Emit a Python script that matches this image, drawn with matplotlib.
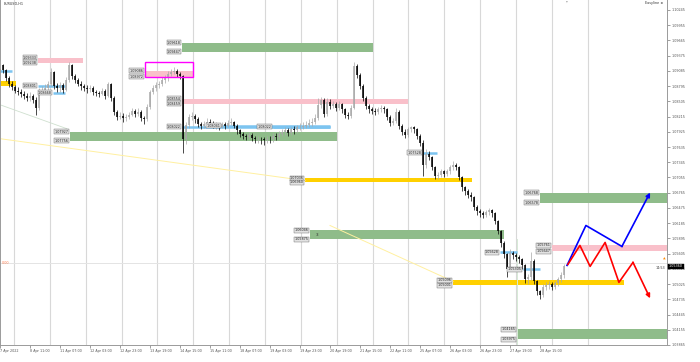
import numpy as np
import matplotlib.pyplot as plt
from matplotlib.patches import Rectangle

# EURUSD, bars sampled every 2 hours (index = bar number)
first_open = 1.0912
close = [1.0920, 1.0911, 1.0895, 1.0884, 1.0878, 1.0871, 1.0869, 1.0865, 1.0861, 1.0857,
         1.0861, 1.0854, 1.0838, 1.0869, 1.0873, 1.0876, 1.0884, 1.0907, 1.0880, 1.0876,
         1.0882, 1.0873, 1.0892, 1.0920, 1.0899, 1.0892, 1.0884, 1.0880, 1.0876, 1.0874,
         1.0876, 1.0869, 1.0867, 1.0865, 1.0871, 1.0861, 1.0884, 1.0857, 1.0831, 1.0821,
         1.0823, 1.0819, 1.0821, 1.0825, 1.0833, 1.0827, 1.0831, 1.0819, 1.0817, 1.0840,
         1.0869, 1.0876, 1.0882, 1.0884, 1.0892, 1.0895, 1.0903, 1.0907, 1.0909, 1.0903,
         1.0899, 1.0778, 1.0806, 1.0821, 1.0823, 1.0816, 1.0808, 1.0804, 1.0808, 1.0812,
         1.0810, 1.0804, 1.0806, 1.0802, 1.0808, 1.0804, 1.0810, 1.0812, 1.0804, 1.0795,
         1.0789, 1.0785, 1.0783, 1.0787, 1.0781, 1.0778, 1.0779, 1.0778, 1.0776, 1.0779,
         1.0778, 1.0785, 1.0783, 1.0789, 1.0793, 1.0795, 1.0791, 1.0797, 1.0795, 1.0801,
         1.0802, 1.0804, 1.0806, 1.0810, 1.0812, 1.0819, 1.0844, 1.0854, 1.0827, 1.0850,
         1.0842, 1.0846, 1.0838, 1.0846, 1.0835, 1.0825, 1.0823, 1.0838, 1.0918, 1.0901,
         1.0880, 1.0857, 1.0842, 1.0835, 1.0833, 1.0831, 1.0835, 1.0838, 1.0835, 1.0821,
         1.0810, 1.0814, 1.0831, 1.0804, 1.0793, 1.0787, 1.0797, 1.0801, 1.0797, 1.0785,
         1.0772, 1.0730, 1.0751, 1.0744, 1.0725, 1.0709, 1.0711, 1.0717, 1.0713, 1.0717,
         1.0725, 1.0730, 1.0725, 1.0706, 1.0687, 1.0679, 1.0673, 1.0668, 1.0650, 1.0641,
         1.0637, 1.0635, 1.0639, 1.0643, 1.0637, 1.0622, 1.0603, 1.0580, 1.0559, 1.0531,
         1.0561, 1.0557, 1.0554, 1.0550, 1.0538, 1.0512, 1.0516, 1.0546, 1.0508, 1.0489,
         1.0481, 1.0497, 1.0500, 1.0502, 1.0497, 1.0504, 1.0512, 1.0519, 1.0536]
high = [1.0930, 1.0922, 1.0913, 1.0898, 1.0889, 1.0882, 1.0877, 1.0874, 1.0870, 1.0866,
        1.0868, 1.0864, 1.0858, 1.0875, 1.0880, 1.0884, 1.0890, 1.0914, 1.0909, 1.0886,
        1.0887, 1.0885, 1.0896, 1.0926, 1.0922, 1.0903, 1.0895, 1.0889, 1.0884, 1.0881,
        1.0882, 1.0879, 1.0873, 1.0871, 1.0876, 1.0874, 1.0888, 1.0886, 1.0860, 1.0834,
        1.0830, 1.0828, 1.0826, 1.0831, 1.0838, 1.0836, 1.0837, 1.0834, 1.0823, 1.0845,
        1.0873, 1.0881, 1.0888, 1.0890, 1.0896, 1.0901, 1.0908, 1.0913, 1.0916, 1.0912,
        1.0907, 1.0901, 1.0812, 1.0827, 1.0830, 1.0827, 1.0820, 1.0812, 1.0813, 1.0818,
        1.0816, 1.0813, 1.0811, 1.0809, 1.0812, 1.0811, 1.0815, 1.0818, 1.0814, 1.0807,
        1.0798, 1.0792, 1.0789, 1.0792, 1.0790, 1.0785, 1.0784, 1.0783, 1.0782, 1.0785,
        1.0784, 1.0790, 1.0791, 1.0794, 1.0798, 1.0801, 1.0799, 1.0802, 1.0803, 1.0806,
        1.0809, 1.0811, 1.0813, 1.0816, 1.0819, 1.0826, 1.0857, 1.0859, 1.0857, 1.0857,
        1.0855, 1.0851, 1.0849, 1.0852, 1.0848, 1.0838, 1.0830, 1.0843, 1.0926, 1.0922,
        1.0905, 1.0884, 1.0861, 1.0846, 1.0840, 1.0838, 1.0840, 1.0844, 1.0842, 1.0838,
        1.0825, 1.0818, 1.0838, 1.0834, 1.0808, 1.0797, 1.0801, 1.0804, 1.0803, 1.0799,
        1.0788, 1.0776, 1.0759, 1.0756, 1.0747, 1.0728, 1.0716, 1.0722, 1.0720, 1.0722,
        1.0730, 1.0736, 1.0734, 1.0728, 1.0709, 1.0690, 1.0683, 1.0677, 1.0671, 1.0653,
        1.0645, 1.0641, 1.0643, 1.0648, 1.0646, 1.0640, 1.0625, 1.0606, 1.0584, 1.0562,
        1.0569, 1.0565, 1.0561, 1.0557, 1.0553, 1.0541, 1.0522, 1.0563, 1.0550, 1.0511,
        1.0492, 1.0502, 1.0506, 1.0508, 1.0507, 1.0509, 1.0516, 1.0525, 1.0540]
low = [1.0916, 1.0905, 1.0890, 1.0878, 1.0872, 1.0866, 1.0862, 1.0859, 1.0855, 1.0851,
       1.0852, 1.0848, 1.0824, 1.0834, 1.0864, 1.0868, 1.0870, 1.0880, 1.0874, 1.0869,
       1.0868, 1.0866, 1.0870, 1.0888, 1.0893, 1.0886, 1.0879, 1.0873, 1.0870, 1.0867,
       1.0868, 1.0863, 1.0860, 1.0858, 1.0862, 1.0855, 1.0858, 1.0851, 1.0825, 1.0815,
       1.0816, 1.0812, 1.0813, 1.0817, 1.0822, 1.0821, 1.0823, 1.0813, 1.0807, 1.0814,
       1.0836, 1.0864, 1.0871, 1.0876, 1.0879, 1.0886, 1.0890, 1.0899, 1.0902, 1.0897,
       1.0893, 1.0753, 1.0770, 1.0800, 1.0815, 1.0810, 1.0802, 1.0798, 1.0800, 1.0805,
       1.0804, 1.0799, 1.0798, 1.0796, 1.0799, 1.0798, 1.0801, 1.0805, 1.0799, 1.0789,
       1.0783, 1.0779, 1.0776, 1.0779, 1.0775, 1.0771, 1.0772, 1.0770, 1.0768, 1.0771,
       1.0772, 1.0774, 1.0777, 1.0779, 1.0784, 1.0787, 1.0785, 1.0786, 1.0789, 1.0790,
       1.0795, 1.0797, 1.0799, 1.0801, 1.0804, 1.0808, 1.0815, 1.0838, 1.0820, 1.0823,
       1.0836, 1.0837, 1.0833, 1.0834, 1.0829, 1.0819, 1.0816, 1.0818, 1.0835, 1.0895,
       1.0874, 1.0851, 1.0836, 1.0829, 1.0826, 1.0825, 1.0826, 1.0830, 1.0829, 1.0815,
       1.0804, 1.0805, 1.0810, 1.0798, 1.0787, 1.0781, 1.0783, 1.0792, 1.0791, 1.0779,
       1.0766, 1.0709, 1.0724, 1.0738, 1.0719, 1.0703, 1.0702, 1.0706, 1.0707, 1.0709,
       1.0712, 1.0720, 1.0719, 1.0700, 1.0680, 1.0673, 1.0667, 1.0661, 1.0644, 1.0635,
       1.0631, 1.0628, 1.0630, 1.0634, 1.0631, 1.0616, 1.0597, 1.0574, 1.0552, 1.0516,
       1.0527, 1.0551, 1.0547, 1.0543, 1.0532, 1.0505, 1.0502, 1.0510, 1.0502, 1.0482,
       1.0474, 1.0478, 1.0492, 1.0494, 1.0491, 1.0493, 1.0499, 1.0507, 1.0515]

time_labels = ["7 Apr 2022", "8 Apr 11:00", "11 Apr 07:00", "12 Apr 03:00", "12 Apr 23:00",
               "13 Apr 19:00", "14 Apr 15:00", "15 Apr 11:00", "18 Apr 07:00", "19 Apr 03:00",
               "19 Apr 23:00", "20 Apr 19:00", "21 Apr 15:00", "22 Apr 11:00", "25 Apr 07:00",
               "26 Apr 03:00", "26 Apr 23:00", "27 Apr 19:00", "28 Apr 15:00"]

# zones: start bar, end bar, top price, bottom price, kind
zone_start = [0, 12.7, 60.7, 48.3, 60.7, 23.3, 101.7, 103.3, 151, 184, 180, 172.3]
zone_end = [5.3, 27.7, 124.3, 64.3, 136, 112.3, 157.3, 168, 208, 230, 230, 230]
zone_top = [1.08896, 1.09333, 1.09618, 1.09086, 1.08554, 1.07927, 1.07036, 1.06046,
            1.05096, 1.05761, 1.06768, 1.04165]
zone_bot = [1.08801, 1.09238, 1.09447, 1.08972, 1.08459, 1.07756, 1.06960, 1.05875,
            1.05001, 1.05647, 1.06578, 1.03975]
zone_kind = ["minor", "supply", "demand", "supply", "supply", "demand", "minor",
             "demand", "minor", "supply", "demand", "demand"]

# short blue levels
level_start = [0, 12.7, 17.7, 60.7, 74, 91, 141, 166.7, 174.3]
level_end = [4, 21.7, 21.7, 110, 110, 110, 145.7, 172.3, 180]
level_price = [1.09077, 1.08801, 1.08668, 1.08022, 1.08041, 1.08022, 1.07528, 1.05628, 1.05305]

# projected paths
blue_x = [189, 195.3, 207.3, 216.7]
blue_p = [1.05381, 1.06141, 1.05742, 1.06768]
red_x = [189.3, 193.3, 196.7, 201.7, 206.3, 211, 216.7]
red_p = [1.05400, 1.05761, 1.05362, 1.05818, 1.05058, 1.05438, 1.04754]

kind_color = {"supply": "#f9c0ca", "demand": "#8fbc8a", "minor": "#ffd000"}
label_box = dict(boxstyle="square,pad=0.15", fc="#e2e2e2", ec="#666", lw=0.3)

fig = plt.figure(figsize=(7, 3.62), dpi=100)
ax = fig.add_axes([0, 17 / 362, 667 / 700, 345 / 362])
ax.set_xlim(0, 222.33)
ax.set_ylim(1.03880, 1.10435)
fs = 2.4

for gx in 14 + 35.85 * np.arange(17):
    ax.axvline(gx / 3, color="#d8d8d8", lw=0.8, zorder=0)
ax.axhline(1.05419, color="#e4e4e4", lw=0.7, zorder=0)
ax.text(0.6, 1.05419, "0.00", color="#ff7f50", fontsize=fs, va="center")

for x0, x1, top, bot, kind in zip(zone_start, zone_end, zone_top, zone_bot, zone_kind):
    ax.add_patch(Rectangle((x0, bot), x1 - x0, top - bot, color=kind_color[kind], lw=0, zorder=1))
    if x0 > 3:
        for p in (top, bot):
            ax.text(x0 - 0.4, p, f"{p:.5f}", fontsize=fs, ha="right", va="center", color="#222",
                    bbox=label_box, zorder=5)
# magenta frame
ax.add_patch(Rectangle((48.3, 1.08972), 16, 1.09257 - 1.08972, fill=False, ec="#ff00ff", lw=1.0, zorder=4))
ax.text(105.3, 1.0596, "3", fontsize=3, va="center", color="#333", zorder=5)

for x0, x1, p in zip(level_start, level_end, level_price):
    ax.plot([x0, x1], [p, p], color="#7cc4f0", lw=1.8, zorder=2, solid_capstyle="butt")
for i in range(1, len(level_start)):
    ax.text(level_start[i] - 0.4, level_price[i], f"{level_price[i]:.5f}", fontsize=fs, ha="right",
            va="center", color="#222", bbox=label_box, zorder=5)

# faint trend lines
ax.plot([0, 101.7], [1.07794, 1.06996], color="#fff0a0", lw=0.7, zorder=1)
ax.plot([110, 151], [1.06141, 1.05077], color="#fff0a0", lw=0.7, zorder=1)
ax.plot([0, 22.3], [1.08440, 1.07984], color="#cfe0cf", lw=0.6, zorder=1)
ax.plot([172.3, 172.3], [1.05875, 1.03880], color="#d6ead6", lw=0.7, zorder=1)

# candles
close = np.array(close)
high = np.array(high)
low = np.array(low)
opens = np.r_[first_open, close[:-1]]
k = np.arange(len(close))
cols = np.where(close >= opens, "#a8a8a8", "#000000")
ax.vlines(k, low, high, colors=cols, lw=0.5, zorder=3)
ax.vlines(k, np.minimum(opens, close), np.maximum(opens, close), colors=cols, lw=1.1, zorder=3)

# projections
for xs, ps, c in ((blue_x, blue_p, "#0000ff"), (red_x, red_p, "#ff0000")):
    ax.plot(xs[:-1], ps[:-1], color=c, lw=1.2, zorder=4)
    ax.annotate("", xy=(xs[-1], ps[-1]), xytext=(xs[-2], ps[-2]), zorder=4,
                arrowprops=dict(arrowstyle="-|>", color=c, lw=1.2, mutation_scale=6, shrinkA=0, shrinkB=0))

# axes styling
ticks = 1.10245 - 0.0029 * np.arange(23)
ax.yaxis.tick_right()
ax.set_yticks(ticks)
ax.set_yticklabels([f"{t:.5f}" for t in ticks])
ax.set_xticks(np.arange(len(time_labels)) * 10)
ax.set_xticklabels(time_labels)
for lbl in ax.get_xticklabels():
    lbl.set_ha("left")
ax.tick_params(labelsize=fs, colors="#555", length=2, width=0.4, pad=1)
ax.spines["top"].set_visible(False)
for s in ("left", "right", "bottom"):
    ax.spines[s].set_color("#9a9a9a")
    ax.spines[s].set_linewidth(0.7)

ytr = ax.get_yaxis_transform()
ax.text(1.003, close[-1], f"{close[-1]:.5f}", transform=ytr, fontsize=fs, color="white", va="center",
        bbox=dict(boxstyle="square,pad=0.2", fc="black", ec="black", lw=0.3), zorder=6, clip_on=False)
ax.text(0.997, close[-1] - 0.0002, "14:53", transform=ytr, fontsize=fs, color="#333", ha="right", va="center")
ax.text(0.998, 1.0551, "\u25b2", transform=ytr, fontsize=2.5, color="#ff8c00", ha="right", va="center")
ax.text(0.006, 0.995, "EURUSD,H1", transform=ax.transAxes, fontsize=fs, color="#333", va="top")
ax.text(0.995, 0.998, "Easyline \u2699", transform=ax.transAxes, fontsize=fs, color="#333",
        ha="right", va="top")
ax.text(0.85, 1.0, "\u25bf", transform=ax.transAxes, fontsize=2.5, color="#666", ha="center", va="top")

fig.savefig("out.png", dpi=100)
